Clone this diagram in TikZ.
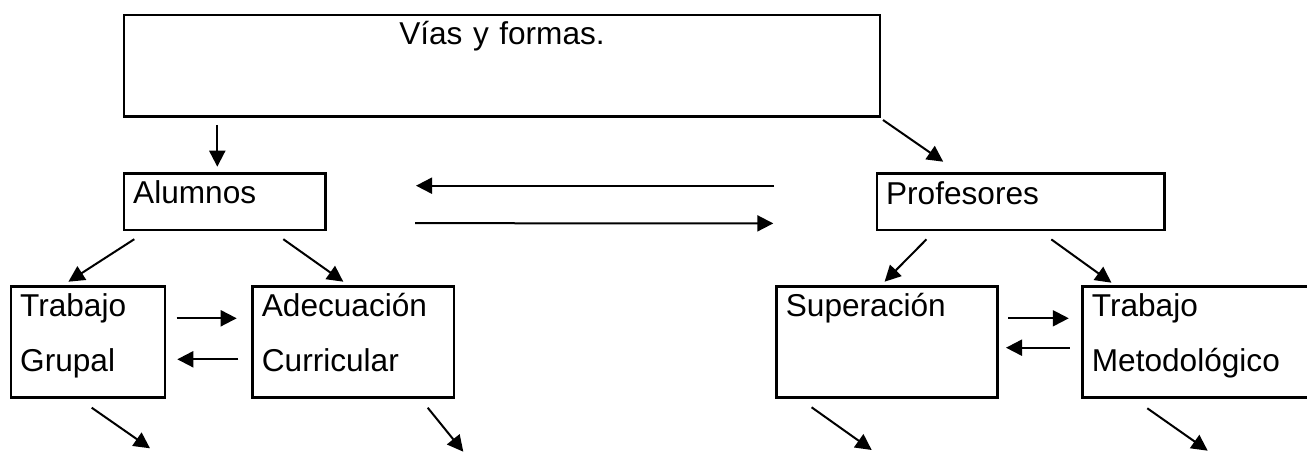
\documentclass[tikz,border=0pt]{standalone}
\usepackage{fontspec}
\setmainfont{Liberation Sans}
\usetikzlibrary{arrows.meta,calc}
\tikzset{
  box/.style={draw, line width=1.25pt, anchor=north west, inner xsep=4.6pt, inner ysep=0pt, outer sep=0pt, align=left, text height=15.3pt},
  arr/.style={-{Triangle[length=8pt,width=8pt]}, line width=1pt},
}
\begin{document}
\begin{tikzpicture}[x=0.5pt,y=-0.5pt,font=\fontsize{15.8}{27.5}\selectfont]
				\useasboundingbox (0,0) rectangle (1307,453);
				
				\node[box, inner xsep=0pt, align=center, text width=378pt, text height=15pt, text depth=35.85pt] (via) at (124,15) {Vías y formas.};
				
				\node[box, text width=91.45pt, text depth=13pt] (alumnos) at (124,173.3) {Alumnos};
				\node[box, text width=134.7pt, text depth=13pt] (profesores) at (876.9,173.5) {Profesores};
				
				\node[box, text width=67.8pt, text height=15pt, text depth=40.4pt] (grupal) at (11,286.7) {Trabajo\\Grupal};
				\node[box, text width=91.45pt, text height=15pt, text depth=40.4pt] (adecuacion) at (252.7,286.7) {Adecuación\\Curricular};
				\node[box, text width=101.1pt, text height=15pt, text depth=40.4pt] (superacion) at (776.7,286.7) {Superación};
				\node[box, text width=105.45pt, text height=15pt, text depth=40.4pt] (metodologico) at (1082.7,286.7) {Trabajo\\Metodológico};
				
				\coordinate (grupalfin) at (150,448.3);
				\coordinate (adecuacionfin) at (463.3,451.7);
				\coordinate (superacionfin) at (871.7,450);
				\coordinate (metodologicofin) at (1207.7,450.7);
				
				\draw[arr] ($(via.south west)+(93.3,8.3)$) -- ($(alumnos.north west)+(93.3,-6.6)$);
				\draw[arr] ($(via.south east)+(3,3.3)$) -- ($(profesores.north west)+(66.3,-11.8)$);
				\draw[arr] ($(profesores.north west)+(-102.9,12.2)$) -- ($(alumnos.north east)+(90.7,12.4)$);
				\draw[arr] ($(alumnos.south east)+(89.7,-6.7)$) -- ($(profesores.south west)+(-103.6,-6.7)$);
				
				\draw[arr] ($(alumnos.south west)+(10.3,9.3)$) -- ($(grupal.north west)+(57.4,-5)$);
				\draw[arr] ($(alumnos.south west)+(159.3,9.3)$) -- ($(adecuacion.north west)+(90.6,-5)$);
				\draw[arr] ($(grupal.north east)+(11.7,31.6)$) -- ($(adecuacion.north west)+(-16,31.6)$);
				\draw[arr] ($(adecuacion.north west)+(-14.4,72.6)$) -- ($(grupal.north east)+(12.3,72.6)$);
				
				\draw[arr] ($(profesores.south west)+(49.5,9.3)$) -- ($(superacion.north west)+(107.9,-5)$);
				\draw[arr] ($(profesores.south west)+(174.4,9.3)$) -- ($(metodologico.north west)+(28.7,-4)$);
				\draw[arr] ($(superacion.north east)+(11.1,31.6)$) -- ($(metodologico.north west)+(-13.9,31.6)$);
				\draw[arr] ($(metodologico.north west)+(-12.9,61)$) -- ($(superacion.north east)+(8.7,61)$);
				
				\draw[arr] ($(grupal.south west)+(80.7,10.2)$) -- (grupalfin);
				\draw[arr] ($(adecuacion.south east)+(-26.3,10.2)$) -- (adecuacionfin);
				\draw[arr] ($(superacion.south west)+(34.9,9.8)$) -- (superacionfin);
				\draw[arr] ($(metodologico.south west)+(64.6,10.8)$) -- (metodologicofin);
			\end{tikzpicture}
\end{document}
